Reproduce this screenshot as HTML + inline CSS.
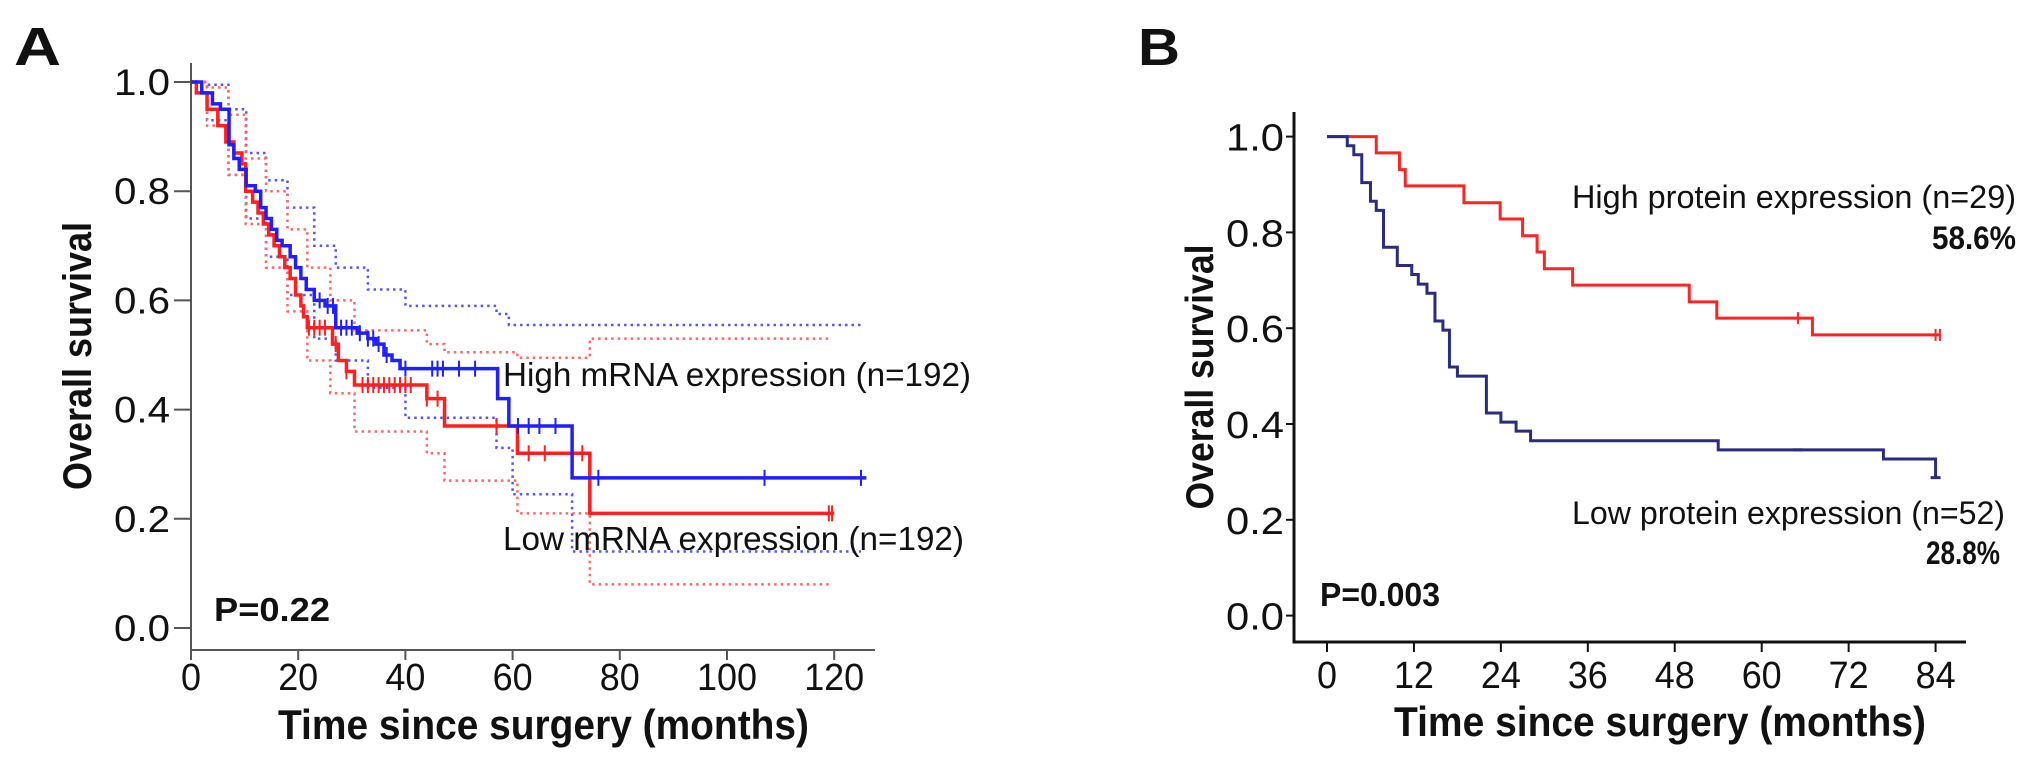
<!DOCTYPE html>
<html><head><meta charset="utf-8"><style>
html,body{margin:0;padding:0;background:#fff;}
svg{display:block;}
text{font-family:"Liberation Sans",Arial,sans-serif;fill:#111;}
</style></head><body>
<svg id="fig" width="2031" height="757" viewBox="0 0 2031 757" xmlns="http://www.w3.org/2000/svg">
<g id="pa"></g>
<g id="pb"></g>
</svg>
<script>
// ---------- Panel A data ----------
const aXTicks = [0,20,40,60,80,100,120];
const aYTicks = [0.0,0.2,0.4,0.6,0.8,1.0];
const aHighT = [2,4,5.5,7.1,8,9,10.3,12,13,14,15,16,17,18.5,19.5,20.5,21.5,23,25,27,31,33,34.5,36,37.5,39,57.2,59.3,71.1];
const aHighS = [0.98,0.96,0.95,0.885,0.86,0.84,0.81,0.80,0.77,0.75,0.73,0.71,0.70,0.68,0.66,0.64,0.62,0.60,0.59,0.55,0.54,0.53,0.52,0.50,0.49,0.475,0.42,0.37,0.275];
const aHighEnd = 126;
const aHighCens = [24,25.5,26.5,28,29,30,31.5,33,34,35,36.5,40,45,46,47,50,53,61,63,65,68,76,107,125];
const aLowT = [1,3,5,6.5,8,9.5,10.2,11.5,12.5,13.5,14.5,15.5,16.5,17.5,18.5,19.5,20.5,21,21.7,26.4,27.5,29,30.5,44,47.3,60.9,74.4];
const aLowS = [0.98,0.95,0.92,0.89,0.87,0.85,0.80,0.78,0.76,0.74,0.72,0.70,0.68,0.66,0.64,0.61,0.59,0.57,0.55,0.52,0.49,0.47,0.445,0.42,0.37,0.32,0.21];
const aLowEnd = 120;
const aLowCens = [22,23,24,25,27,29,32,33,34,35,36,37,38,39,40,41,44,46,57,63,66,73,119,119.6];
const aHighUpT = [0,3,7,10.3,14,18,23,27,33,40,57,59.3];
const aHighUpS = [1.0,0.995,0.95,0.87,0.82,0.77,0.70,0.66,0.62,0.59,0.575,0.555];
const aHighLoT = [0,3,7,10.3,14,18,23,27,33,40,57,60,71.1];
const aHighLoS = [1.0,0.93,0.83,0.75,0.68,0.61,0.53,0.49,0.44,0.385,0.33,0.245,0.14];
const aLowUpT = [0,3,7,10.2,14,18,21.7,26,30.5,44,47.3,60.9,74.4];
const aLowUpS = [1.0,0.99,0.94,0.86,0.80,0.73,0.66,0.60,0.545,0.52,0.505,0.495,0.53];
const aLowLoT = [0,3,7,10.2,14,18,21.7,26,30.5,44,47.3,60.9,74.4];
const aLowLoS = [1.0,0.92,0.83,0.74,0.66,0.58,0.49,0.43,0.36,0.32,0.27,0.21,0.08];
const aCiEnd = 125;
const aLowCiEnd = 119;

// ---------- Panel B data ----------
const bXTicks = [0,12,24,36,48,60,72,84];
const bYTicks = [0.0,0.2,0.4,0.6,0.8,1.0];
const bHighT = [6.8,10,10.8,18.9,23.9,27,29,30,33.9,50,53.8,67];
const bHighS = [0.966,0.931,0.897,0.862,0.828,0.793,0.759,0.724,0.690,0.655,0.621,0.586];
const bHighEnd = 84.6;
const bHighCens = [65,84,84.6];
const bLowT = [2.8,3.7,4.8,6,6.8,7.8,9.7,11.7,12.6,13.8,14.9,16,16.9,18,22,24,26.1,28.1,54,76.8,84];
const bLowS = [0.981,0.962,0.904,0.865,0.846,0.769,0.731,0.712,0.692,0.673,0.615,0.596,0.519,0.50,0.423,0.404,0.385,0.365,0.346,0.327,0.288];
const bLowEnd = 84;
const bLowCens = [65,84];

const NS = "http://www.w3.org/2000/svg";
function mk(parent, tag, attrs, txt){
  const e = document.createElementNS(NS, tag);
  for (const k in attrs) e.setAttribute(k, attrs[k]);
  if (txt !== undefined) e.textContent = txt;
  parent.appendChild(e);
  return e;
}
function stepPts(T,S,end,xs,ys){
  let d = "M"+xs(0)+","+ys(1);
  for (let i=0;i<T.length;i++){ d += " H"+xs(T[i])+" V"+ys(S[i]); }
  d += " H"+xs(end);
  return d;
}
function stepCI(T,S,end,xs,ys){
  let d = "M"+xs(T[0])+","+ys(S[0]);
  for (let i=1;i<T.length;i++){ d += " H"+xs(T[i])+" V"+ys(S[i]); }
  d += " H"+xs(end);
  return d;
}
function survAt(T,S,t){ let s=1; for(let i=0;i<T.length;i++){ if(T[i]<=t) s=S[i]; } return s; }

// ---------- Draw Panel A ----------
(function(){
  const g = document.getElementById('pa');
  const xs = m => 191 + 5.36*m;
  const ys = s => 628 - 546*s;
  let t;
  t = mk(g,'text',{x:14,y:65,'font-size':54,'font-weight':'bold',textLength:47,lengthAdjust:'spacingAndGlyphs'},'A');
   
  let e = mk(g,'path',{d:'M191,63 V650 H875',fill:'none',stroke:'#555','stroke-width':2});
   
  aYTicks.forEach(v=>{
    const l = mk(g,'line',{x1:174,x2:191,y1:ys(v),y2:ys(v),stroke:'#555','stroke-width':2});
     
    const tx = mk(g,'text',{x:170,y:ys(v)+13,'font-size':37,'text-anchor':'end',textLength:56,lengthAdjust:'spacingAndGlyphs'},v.toFixed(1));
     
  });
  aXTicks.forEach(v=>{
    const l = mk(g,'line',{x1:xs(v),x2:xs(v),y1:650,y2:660,stroke:'#555','stroke-width':2});
     
    const w = String(v).length*20;
    const tx = mk(g,'text',{x:xs(v),y:690,'font-size':38,'text-anchor':'middle',textLength:w,lengthAdjust:'spacingAndGlyphs'},String(v));
     
  });
  t = mk(g,'text',{x:278,y:739,'font-size':42,'font-weight':'bold',textLength:531,lengthAdjust:'spacingAndGlyphs'},'Time since surgery (months)');
   
  t = mk(g,'text',{x:0,y:0,'font-size':40,'font-weight':'bold','text-anchor':'middle',textLength:268,lengthAdjust:'spacingAndGlyphs',transform:'translate(91,356) rotate(-90)'},'Overall survival');
   
  [[aHighUpT,aHighUpS,aCiEnd,'#5555ff','ci-high-upper'],[aHighLoT,aHighLoS,aCiEnd,'#5555ff','ci-high-lower'],
   [aLowUpT,aLowUpS,aLowCiEnd,'#ff6666','ci-low-upper'],[aLowLoT,aLowLoS,aLowCiEnd,'#ff6666','ci-low-lower']].forEach(c=>{
    const p = mk(g,'path',{d:stepCI(c[0],c[1],c[2],xs,ys),fill:'none',stroke:c[3],'stroke-width':2.5,'stroke-dasharray':'2.5 4'});
     
  });
  let p = mk(g,'path',{d:stepPts(aLowT,aLowS,aLowEnd,xs,ys),fill:'none',stroke:'#ff1f1f','stroke-width':3.5});
   
  p = mk(g,'path',{d:stepPts(aHighT,aHighS,aHighEnd,xs,ys),fill:'none',stroke:'#1f1fff','stroke-width':3.5});
   
  aLowCens.forEach(c=>{
    const y = ys(survAt(aLowT,aLowS,c));
    const l = mk(g,'line',{x1:xs(c),x2:xs(c),y1:y-8,y2:y+8,stroke:'#ff1f1f','stroke-width':2});
     
  });
  aHighCens.forEach(c=>{
    const y = ys(survAt(aHighT,aHighS,c));
    const l = mk(g,'line',{x1:xs(c),x2:xs(c),y1:y-8,y2:y+8,stroke:'#1f1fff','stroke-width':2});
     
  });
  t = mk(g,'text',{x:503,y:386,'font-size':33,textLength:468,lengthAdjust:'spacingAndGlyphs'},'High mRNA expression (n=192)');
   
  t = mk(g,'text',{x:503,y:550,'font-size':33,textLength:461,lengthAdjust:'spacingAndGlyphs'},'Low mRNA expression (n=192)');
   
  t = mk(g,'text',{x:214,y:621,'font-size':33,'font-weight':'bold',textLength:116,lengthAdjust:'spacingAndGlyphs'},'P=0.22');
   
})();

// ---------- Draw Panel B ----------
(function(){
  const g = document.getElementById('pb');
  const xs = m => 1327 + 7.245*m;
  const ys = s => 615.6 - 479*s;
  let t;
  t = mk(g,'text',{x:1138,y:65,'font-size':52,'font-weight':'bold',textLength:42,lengthAdjust:'spacingAndGlyphs'},'B');
   
  let e = mk(g,'path',{d:'M1294,112 V642 H1966',fill:'none',stroke:'#111','stroke-width':3});
   
  bYTicks.forEach(v=>{
    const l = mk(g,'line',{x1:1286,x2:1294,y1:ys(v),y2:ys(v),stroke:'#111','stroke-width':2});
     
    const tx = mk(g,'text',{x:1284,y:ys(v)+14,'font-size':38,'text-anchor':'end',textLength:58,lengthAdjust:'spacingAndGlyphs'},v.toFixed(1));
     
  });
  bXTicks.forEach(v=>{
    const l = mk(g,'line',{x1:xs(v),x2:xs(v),y1:642,y2:652,stroke:'#111','stroke-width':2});
     
    const w = String(v).length*20;
    const tx = mk(g,'text',{x:xs(v),y:688,'font-size':38,'text-anchor':'middle',textLength:w,lengthAdjust:'spacingAndGlyphs'},String(v));
     
  });
  t = mk(g,'text',{x:1394,y:736,'font-size':42,'font-weight':'bold',textLength:532,lengthAdjust:'spacingAndGlyphs'},'Time since surgery (months)');
   
  t = mk(g,'text',{x:0,y:0,'font-size':39,'font-weight':'bold','text-anchor':'middle',textLength:265,lengthAdjust:'spacingAndGlyphs',transform:'translate(1213,377) rotate(-90)'},'Overall survival');
   
  let p = mk(g,'path',{d:stepPts(bHighT,bHighS,bHighEnd,xs,ys),fill:'none',stroke:'#ff2424','stroke-width':3});
   
  p = mk(g,'path',{d:stepPts(bLowT,bLowS,bLowEnd,xs,ys),fill:'none',stroke:'#2b2b80','stroke-width':3});
   
  bHighCens.forEach(c=>{
    const y = ys(survAt(bHighT,bHighS,c));
    const l = mk(g,'line',{x1:xs(c),x2:xs(c),y1:y-6,y2:y+6,stroke:'#ff2424','stroke-width':2});
     
  });
  bLowCens.forEach(c=>{
    const y = ys(survAt(bLowT,bLowS,c));
    const l = mk(g,'line',{x1:xs(c)-5,x2:xs(c)+5,y1:y,y2:y,stroke:'#2b2b80','stroke-width':3});
     
  });
  t = mk(g,'text',{x:1572,y:208,'font-size':32,textLength:444,lengthAdjust:'spacingAndGlyphs'},'High protein expression (n=29)');
   
  t = mk(g,'text',{x:1932,y:249,'font-size':32,'font-weight':'bold',textLength:84,lengthAdjust:'spacingAndGlyphs'},'58.6%');
   
  t = mk(g,'text',{x:1572,y:524,'font-size':32,textLength:433,lengthAdjust:'spacingAndGlyphs'},'Low protein expression (n=52)');
   
  t = mk(g,'text',{x:1926,y:564,'font-size':32,'font-weight':'bold',textLength:74,lengthAdjust:'spacingAndGlyphs'},'28.8%');
   
  t = mk(g,'text',{x:1320,y:606,'font-size':33,'font-weight':'bold',textLength:120,lengthAdjust:'spacingAndGlyphs'},'P=0.003');
   
})();
</script>
</body></html>
